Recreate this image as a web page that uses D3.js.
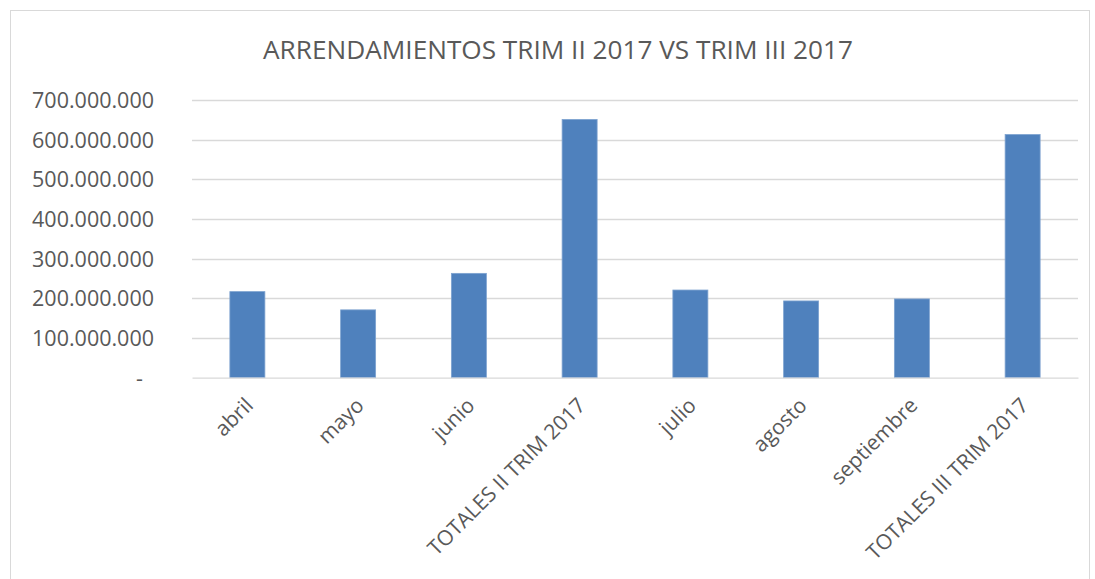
<!DOCTYPE html>
<html>
<head>
<meta charset="utf-8">
<script src="https://cdn.jsdelivr.net/npm/d3@7"></script>
<style>
  html, body { margin: 0; padding: 0; background: #fff; }
  svg { display: block; }
</style>
</head>
<body>
<svg id="chart" width="1095" height="579"></svg>
<script>
const title = "ARRENDAMIENTOS TRIM II 2017 VS TRIM III 2017";
const categories = ["abril", "mayo", "junio", "TOTALES II TRIM 2017", "julio", "agosto", "septiembre", "TOTALES III TRIM 2017"];
const values = [217000000, 171000000, 263000000, 651000000, 221000000, 193500000, 198500000, 613000000];
const yTicks = [0, 100000000, 200000000, 300000000, 400000000, 500000000, 600000000, 700000000];

const svg = d3.select("#chart");
const W = 1095, H = 579;
const margin = { left: 192, right: 17, top: 100, bottom: 201.3 };
const innerW = W - margin.left - margin.right;
const innerH = H - margin.top - margin.bottom;

// outer chart border
svg.append("rect")
  .attr("x", 10.5).attr("y", 10.5)
  .attr("width", 1079).attr("height", 600)
  .attr("fill", "none").attr("stroke", "#d9d9d9").attr("stroke-width", 1);

svg.append("text")
  .attr("x", 558).attr("y", 59)
  .attr("text-anchor", "middle")
  .attr("font-family", "Open Sans, sans-serif")
  .attr("font-size", 26.2)
  .attr("fill", "#595959")
  .text(title);

const g = svg.append("g").attr("transform", `translate(${margin.left},${margin.top})`);

const x = d3.scaleBand().domain(categories).range([0, innerW]).paddingInner(0.684).paddingOuter(0.342);
const y = d3.scaleLinear().domain([0, 700000000]).range([innerH, 0]);

const fmt = v => v === 0 ? "-" : d3.format(",")(v).replace(/,/g, ".");

// gridlines
g.append("g")
  .selectAll("line")
  .data(yTicks.filter(d => d !== 0))
  .join("line")
  .attr("x1", 0).attr("x2", innerW)
  .attr("y1", d => Math.round(y(d)) + 0.5).attr("y2", d => Math.round(y(d)) + 0.5)
  .attr("stroke", "#d9d9d9").attr("stroke-width", 1.3);

// y axis
const yAxis = g.append("g")
  .attr("transform", "translate(-38,0)")
  .call(d3.axisLeft(y).tickValues(yTicks).tickFormat(fmt).tickSize(0).tickPadding(0));
yAxis.select(".domain").remove();
yAxis.selectAll("text")
  .attr("font-family", "Open Sans, sans-serif")
  .attr("font-size", 21.5)
  .attr("fill", "#595959")
  .attr("dy", "0.35em")
  .attr("dx", d => d === 0 ? -11 : 0);

// bars
g.append("g")
  .selectAll("rect")
  .data(values)
  .join("rect")
  .attr("x", (d, i) => x(categories[i]))
  .attr("y", d => y(d))
  .attr("width", x.bandwidth())
  .attr("height", d => innerH - y(d))
  .attr("fill", "#4f81bd")
  .attr("stroke", "#7ea3d0")
  .attr("stroke-width", 0.8);

// x axis
const xAxis = g.append("g")
  .attr("transform", `translate(0,${innerH})`)
  .call(d3.axisBottom(x).tickSize(0).tickPadding(0));
xAxis.select(".domain").attr("stroke", "#d9d9d9").attr("stroke-width", 1.3);
xAxis.selectAll("text")
  .attr("font-family", "Open Sans, sans-serif")
  .attr("font-size", 21)
  .attr("fill", "#595959")
  .attr("text-anchor", "end")
  .attr("dy", "0")
  .attr("transform", "translate(7,29) rotate(-45)");
</script>
</body>
</html>
